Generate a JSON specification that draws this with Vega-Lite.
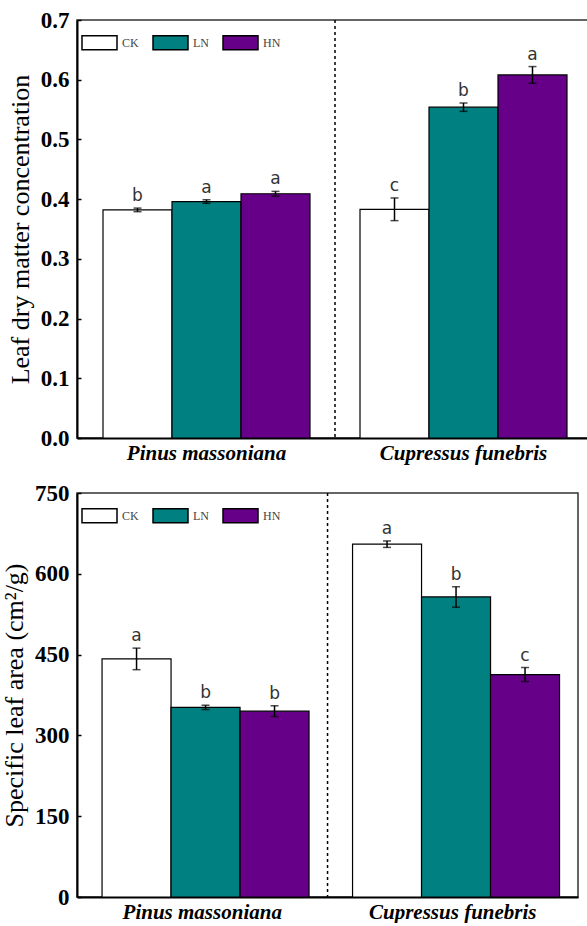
{
  "$schema": "https://vega.github.io/schema/vega-lite/v6.json",
  "padding": {"top": 8, "left": 0, "right": 0, "bottom": 0},
  "background": "white",
  "spacing": 17,
  "datasets": {
    "ldmc": [
      {"species": "Pinus massoniana", "treatment": "CK", "value": 0.382, "se": 0.003, "letter": "b"},
      {"species": "Pinus massoniana", "treatment": "LN", "value": 0.396, "se": 0.003, "letter": "a"},
      {"species": "Pinus massoniana", "treatment": "HN", "value": 0.409, "se": 0.004, "letter": "a"},
      {"species": "Cupressus funebris", "treatment": "CK", "value": 0.383, "se": 0.019, "letter": "c"},
      {"species": "Cupressus funebris", "treatment": "LN", "value": 0.554, "se": 0.007, "letter": "b"},
      {"species": "Cupressus funebris", "treatment": "HN", "value": 0.608, "se": 0.014, "letter": "a"}
    ],
    "sla": [
      {"species": "Pinus massoniana", "treatment": "CK", "value": 442, "se": 20, "letter": "a"},
      {"species": "Pinus massoniana", "treatment": "LN", "value": 352, "se": 4, "letter": "b"},
      {"species": "Pinus massoniana", "treatment": "HN", "value": 345, "se": 10, "letter": "b"},
      {"species": "Cupressus funebris", "treatment": "CK", "value": 655, "se": 6, "letter": "a"},
      {"species": "Cupressus funebris", "treatment": "LN", "value": 557, "se": 19, "letter": "b"},
      {"species": "Cupressus funebris", "treatment": "HN", "value": 413, "se": 13, "letter": "c"}
    ],
    "sep": [{"species": "Cupressus funebris"}]
  },
  "resolve": {"scale": {"color": "independent", "y": "independent", "x": "independent"}, "legend": {"color": "independent"}},
  "vconcat": [
    {
      "width": 516,
      "height": 418,
      "layer": [
        {
          "data": {"name": "ldmc"},
          "mark": {"type": "bar", "stroke": "black", "strokeWidth": 1.2},
          "encoding": {
            "x": {"field": "species", "type": "nominal", "sort": ["Pinus massoniana", "Cupressus funebris"],
                  "scale": {"domain": ["Pinus massoniana", "Cupressus funebris"], "paddingInner": 0.1946, "paddingOuter": 0.1012},
                  "axis": {"title": null, "ticks": false, "labelAngle": 0, "labelLimit": 0, "labelFont": "Liberation Serif", "labelFontSize": 21, "labelFontStyle": "italic", "labelFontWeight": "bold", "labelColor": "black", "labelPadding": 4, "domainColor": "black", "domainWidth": 2}},
            "xOffset": {"field": "treatment", "type": "nominal", "sort": ["CK", "LN", "HN"], "scale": {"domain": ["CK", "LN", "HN"], "paddingInner": 0, "paddingOuter": 0}},
            "y": {"field": "value", "type": "quantitative", "scale": {"domain": [0, 0.7], "nice": false},
                  "axis": {"title": "Leaf dry matter concentration", "values": [0, 0.1, 0.2, 0.3, 0.4, 0.5, 0.6, 0.7], "format": ".1f", "grid": false, "labelFont": "Liberation Serif", "labelFontSize": 23, "labelFontWeight": "bold", "labelColor": "black", "titleFont": "Liberation Serif", "titleFontSize": 26, "titleFontWeight": "normal", "titleColor": "black", "titlePadding": 7, "tickSize": -4, "tickColor": "black", "tickWidth": 1.5, "labelPadding": 12, "domainColor": "black", "domainWidth": 2}},
            "color": {"field": "treatment", "type": "nominal", "sort": ["CK", "LN", "HN"],
                      "scale": {"domain": ["CK", "LN", "HN"], "range": ["#ffffff", "#008080", "#660088"]},
                      "legend": {"title": null, "orient": "top-left", "direction": "horizontal", "offset": 4, "padding": 0,
                                 "symbolType": "M-1,-0.4H1V0.4H-1Z", "symbolSize": 1225, "symbolStrokeColor": "black", "symbolStrokeWidth": 1.5, "symbolOpacity": 1,
                                 "labelFont": "Liberation Serif", "labelFontSize": 12, "labelColor": "#444", "labelOffset": 4, "columnPadding": 11}}
          }
        },
        {
          "data": {"name": "ldmc"},
          "transform": [{"calculate": "datum.value - datum.se", "as": "lo"}, {"calculate": "datum.value + datum.se", "as": "hi"}],
          "mark": {"type": "rule", "color": "black", "strokeWidth": 1.5},
          "encoding": {
            "x": {"field": "species", "type": "nominal", "sort": ["Pinus massoniana", "Cupressus funebris"]},
            "xOffset": {"field": "treatment", "type": "nominal", "sort": ["CK", "LN", "HN"]},
            "y": {"field": "lo", "type": "quantitative"},
            "y2": {"field": "hi"}
          }
        },
        {
          "data": {"name": "ldmc"},
          "transform": [{"calculate": "datum.value - datum.se", "as": "lo"}],
          "mark": {"type": "tick", "color": "black", "thickness": 1.5, "size": 8},
          "encoding": {
            "x": {"field": "species", "type": "nominal", "sort": ["Pinus massoniana", "Cupressus funebris"]},
            "xOffset": {"field": "treatment", "type": "nominal", "sort": ["CK", "LN", "HN"]},
            "y": {"field": "lo", "type": "quantitative"}
          }
        },
        {
          "data": {"name": "ldmc"},
          "transform": [{"calculate": "datum.value + datum.se", "as": "hi"}],
          "mark": {"type": "tick", "color": "black", "thickness": 1.5, "size": 8},
          "encoding": {
            "x": {"field": "species", "type": "nominal", "sort": ["Pinus massoniana", "Cupressus funebris"]},
            "xOffset": {"field": "treatment", "type": "nominal", "sort": ["CK", "LN", "HN"]},
            "y": {"field": "hi", "type": "quantitative"}
          }
        },
        {
          "data": {"name": "ldmc"},
          "transform": [{"calculate": "datum.value + datum.se", "as": "hi"}],
          "mark": {"type": "text", "baseline": "alphabetic", "dy": -7, "font": "DejaVu Sans", "fontSize": 17, "color": "#333"},
          "encoding": {
            "x": {"field": "species", "type": "nominal", "sort": ["Pinus massoniana", "Cupressus funebris"]},
            "xOffset": {"field": "treatment", "type": "nominal", "sort": ["CK", "LN", "HN"]},
            "y": {"field": "hi", "type": "quantitative"},
            "text": {"field": "letter"}
          }
        },
        {
          "data": {"name": "sep"},
          "mark": {"type": "rule", "color": "black", "strokeWidth": 1.5, "strokeDash": [3, 3], "xOffset": -25},
          "encoding": {
            "x": {"field": "species", "type": "nominal", "sort": ["Pinus massoniana", "Cupressus funebris"], "bandPosition": 0}
          }
        }
      ]
    },
    {
      "width": 501,
      "height": 404,
      "layer": [
        {
          "data": {"name": "sla"},
          "mark": {"type": "bar", "stroke": "black", "strokeWidth": 1.2},
          "encoding": {
            "x": {"field": "species", "type": "nominal", "sort": ["Pinus massoniana", "Cupressus funebris"],
                  "scale": {"domain": ["Pinus massoniana", "Cupressus funebris"], "paddingInner": 0.2, "paddingOuter": 0.1},
                  "axis": {"title": null, "ticks": false, "labelAngle": 0, "labelLimit": 0, "labelFont": "Liberation Serif", "labelFontSize": 21, "labelFontStyle": "italic", "labelFontWeight": "bold", "labelColor": "black", "labelPadding": 4, "domainColor": "black", "domainWidth": 2}},
            "xOffset": {"field": "treatment", "type": "nominal", "sort": ["CK", "LN", "HN"], "scale": {"domain": ["CK", "LN", "HN"], "paddingInner": 0, "paddingOuter": 0}},
            "y": {"field": "value", "type": "quantitative", "scale": {"domain": [0, 750], "nice": false},
                  "axis": {"title": "Specific leaf area (cm²/g)", "values": [0, 150, 300, 450, 600, 750], "grid": false, "labelFont": "Liberation Serif", "labelFontSize": 23, "labelFontWeight": "bold", "labelColor": "black", "titleFont": "Liberation Serif", "titleFontSize": 26, "titleFontWeight": "normal", "titleColor": "black", "titlePadding": 7, "tickSize": -4, "tickColor": "black", "tickWidth": 1.5, "labelPadding": 12, "domainColor": "black", "domainWidth": 2}},
            "color": {"field": "treatment", "type": "nominal", "sort": ["CK", "LN", "HN"],
                      "scale": {"domain": ["CK", "LN", "HN"], "range": ["#ffffff", "#008080", "#660088"]},
                      "legend": {"title": null, "orient": "top-left", "direction": "horizontal", "offset": 4, "padding": 0,
                                 "symbolType": "M-1,-0.4H1V0.4H-1Z", "symbolSize": 1225, "symbolStrokeColor": "black", "symbolStrokeWidth": 1.5, "symbolOpacity": 1,
                                 "labelFont": "Liberation Serif", "labelFontSize": 12, "labelColor": "#444", "labelOffset": 4, "columnPadding": 11}}
          }
        },
        {
          "data": {"name": "sla"},
          "transform": [{"calculate": "datum.value - datum.se", "as": "lo"}, {"calculate": "datum.value + datum.se", "as": "hi"}],
          "mark": {"type": "rule", "color": "black", "strokeWidth": 1.5},
          "encoding": {
            "x": {"field": "species", "type": "nominal", "sort": ["Pinus massoniana", "Cupressus funebris"]},
            "xOffset": {"field": "treatment", "type": "nominal", "sort": ["CK", "LN", "HN"]},
            "y": {"field": "lo", "type": "quantitative"},
            "y2": {"field": "hi"}
          }
        },
        {
          "data": {"name": "sla"},
          "transform": [{"calculate": "datum.value - datum.se", "as": "lo"}],
          "mark": {"type": "tick", "color": "black", "thickness": 1.5, "size": 8},
          "encoding": {
            "x": {"field": "species", "type": "nominal", "sort": ["Pinus massoniana", "Cupressus funebris"]},
            "xOffset": {"field": "treatment", "type": "nominal", "sort": ["CK", "LN", "HN"]},
            "y": {"field": "lo", "type": "quantitative"}
          }
        },
        {
          "data": {"name": "sla"},
          "transform": [{"calculate": "datum.value + datum.se", "as": "hi"}],
          "mark": {"type": "tick", "color": "black", "thickness": 1.5, "size": 8},
          "encoding": {
            "x": {"field": "species", "type": "nominal", "sort": ["Pinus massoniana", "Cupressus funebris"]},
            "xOffset": {"field": "treatment", "type": "nominal", "sort": ["CK", "LN", "HN"]},
            "y": {"field": "hi", "type": "quantitative"}
          }
        },
        {
          "data": {"name": "sla"},
          "transform": [{"calculate": "datum.value + datum.se", "as": "hi"}],
          "mark": {"type": "text", "baseline": "alphabetic", "dy": -7, "font": "DejaVu Sans", "fontSize": 17, "color": "#333"},
          "encoding": {
            "x": {"field": "species", "type": "nominal", "sort": ["Pinus massoniana", "Cupressus funebris"]},
            "xOffset": {"field": "treatment", "type": "nominal", "sort": ["CK", "LN", "HN"]},
            "y": {"field": "hi", "type": "quantitative"},
            "text": {"field": "letter"}
          }
        },
        {
          "data": {"name": "sep"},
          "mark": {"type": "rule", "color": "black", "strokeWidth": 1.5, "strokeDash": [3, 3], "xOffset": -25},
          "encoding": {
            "x": {"field": "species", "type": "nominal", "sort": ["Pinus massoniana", "Cupressus funebris"], "bandPosition": 0}
          }
        }
      ]
    }
  ],
  "config": {
    "view": {"stroke": "#333", "strokeWidth": 1.5},
    "font": "Liberation Serif"
  }
}
